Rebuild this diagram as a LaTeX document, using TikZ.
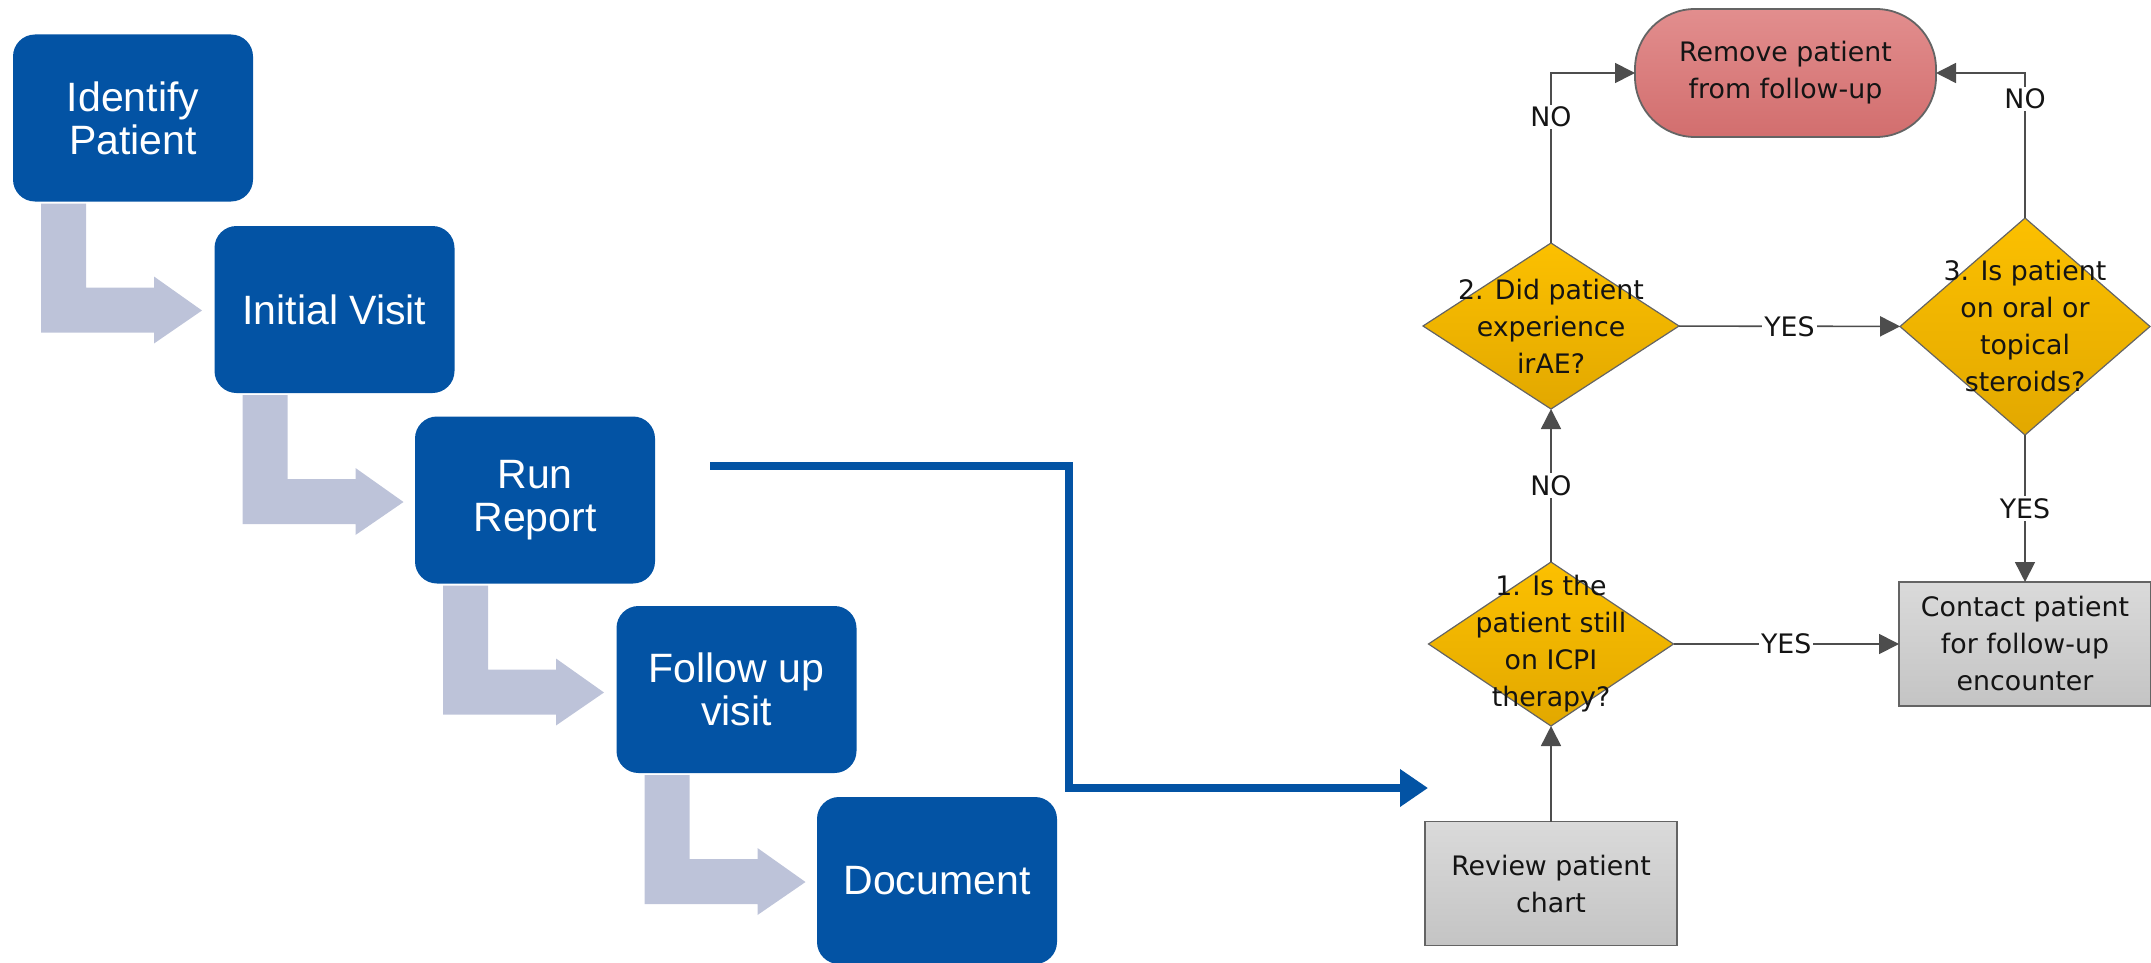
\documentclass[tikz,border=0pt]{standalone}
\usepackage{fontspec}
\setmainfont{Liberation Sans}
\newfontfamily\flowfont{DejaVu Sans}
\usetikzlibrary{shapes.geometric,arrows.meta,calc,positioning}
\definecolor{stepblue}{RGB}{3,83,164}
\definecolor{bendgray}{RGB}{189,195,217}
\definecolor{linegray}{RGB}{77,77,77}
\definecolor{edgegray}{RGB}{100,100,100}
\definecolor{flowtext}{RGB}{20,20,20}
\begin{document}
\begin{tikzpicture}[x=.5pt,y=-.5pt,line cap=butt,line join=miter,
    >={Triangle[length=10pt,width=10pt]},
    stepbox/.style={fill=stepblue,rounded corners=11pt,minimum width=120pt,
        minimum height=83.5pt,inner sep=0pt,outer sep=0pt,text=white,
        align=center,font=\fontsize{20.5}{21.5}\selectfont},
    bendarrow/.style={fill=bendgray},
    qbox/.style={diamond,draw=edgegray,line width=.6pt,inner sep=0pt,outer sep=0pt,
        top color={rgb,255:red,252;green,192;blue,0},
        bottom color={rgb,255:red,226;green,168;blue,0}},
    qtext/.style={text=flowtext,align=center,
        font=\flowfont\fontsize{13.4}{18.5}\selectfont},
    taskbox/.style={draw=edgegray,line width=.9pt,inner sep=0pt,outer sep=0pt,
        top color={rgb,255:red,218;green,218;blue,218},
        bottom color={rgb,255:red,196;green,196;blue,196},
        qtext,minimum width=126pt,minimum height=62pt},
    endbox/.style={draw=edgegray,line width=.9pt,rounded corners=30pt,inner sep=0pt,
        outer sep=0pt,top color={rgb,255:red,226;green,142;blue,142},
        bottom color={rgb,255:red,210;green,110;blue,110},
        qtext,minimum width=150.5pt,minimum height=64pt},
    conn/.style={draw=linegray,line width=.8pt,->},
    ans/.style={fill=white,inner sep=1pt,text=flowtext,
        font=\flowfont\fontsize{13.4}{15}\selectfont}]
\useasboundingbox (0,0) rectangle (2151,963);
% left: process steps
\node[stepbox] (idp) at (133,118) {Identify\\Patient};
\node[stepbox] (ivisit) at (334.5,309.5) {Initial Visit};
\node[stepbox] (runrep) at (535,500) {Run\\Report};
\node[stepbox] (fvisit) at (736.5,689.5) {Follow up\\visit};
\node[stepbox] (docu) at (937,880.5) {Document};
% bent arrows between steps
\fill[bendarrow] ($(idp.south west)+(28,2)$) -- ++(45,0) -- ++(0,84) -- ++(68,0)
    -- ++(0,-11) -- ++(48,34) -- ++(-48,33) -- ++(0,-11) -- ++(-113,0) -- cycle;
\fill[bendarrow] ($(ivisit.south west)+(28,2)$) -- ++(45,0) -- ++(0,84) -- ++(68,0)
    -- ++(0,-11) -- ++(48,34) -- ++(-48,33) -- ++(0,-11) -- ++(-113,0) -- cycle;
\fill[bendarrow] ($(runrep.south west)+(28,2)$) -- ++(45,0) -- ++(0,84) -- ++(68,0)
    -- ++(0,-11) -- ++(48,34) -- ++(-48,33) -- ++(0,-11) -- ++(-113,0) -- cycle;
\fill[bendarrow] ($(fvisit.south west)+(28,2)$) -- ++(45,0) -- ++(0,84) -- ++(68,0)
    -- ++(0,-11) -- ++(48,34) -- ++(-48,33) -- ++(0,-11) -- ++(-113,0) -- cycle;
% link to the review flowchart
\coordinate (runout) at (710,466);
\coordinate (chartin) at (1428,788);
\draw[stepblue,line width=4pt,-{Triangle[length=14pt,width=18pt]}]
    (runout) -- ++(359,0) |- (chartin);
% right: review flowchart
\node[endbox] (remove) at (1785.5,73) {Remove patient\\from follow-up};
\node[qbox,minimum width=128pt,minimum height=83pt,
    label={[qtext]center:2. Did patient\\experience\\irAE?}] (q2) at (1551,326) {};
\node[qbox,minimum width=125pt,minimum height=108.5pt,
    label={[qtext]center:3. Is patient\\on oral or\\topical\\steroids?}] (q3) at (2025,326.5) {};
\node[qbox,minimum width=122.5pt,minimum height=82pt,
    label={[qtext]center:1. Is the\\patient still\\on ICPI\\therapy?}] (q1) at (1551,644) {};
\node[taskbox] (review) at (1551,883.5) {Review patient\\chart};
\node[taskbox] (contact) at (2025,644) {Contact patient\\for follow-up\\encounter};
\draw[conn] (review) -- (q1);
\draw[conn] (q1) -- node[ans]{NO} (q2);
\draw[conn] (q1) -- node[ans]{YES} (contact);
\draw[conn] (q2) -- node[ans]{YES} (q3);
\draw[conn] (q2.north) |- node[ans,pos=.37]{NO} (remove.west);
\draw[conn] (q3.north) |- node[ans,pos=.41]{NO} (remove.east);
\draw[conn] (q3.south) -- node[ans]{YES} (contact.north);
\end{tikzpicture}
\end{document}
